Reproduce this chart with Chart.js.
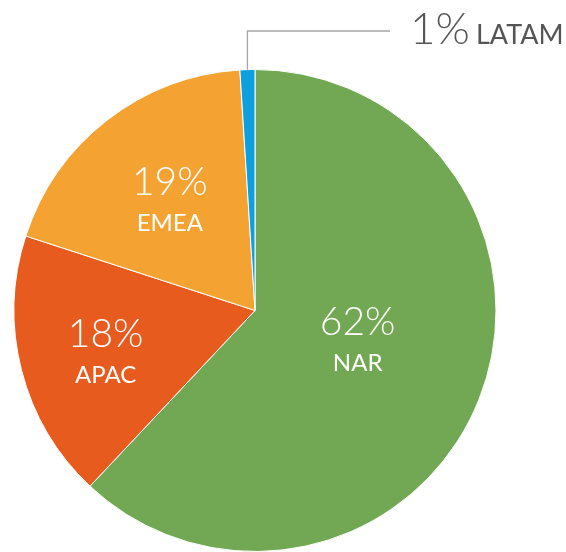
<!DOCTYPE html>
<html>
<head>
<meta charset="utf-8">
<script src="https://cdn.jsdelivr.net/npm/chart.js@4"></script>
<style>
  html, body { margin: 0; padding: 0; background: #fff; }
  #wrap { position: relative; width: 566px; height: 552px; }
</style>
</head>
<body>
<div id="wrap"><canvas id="chart"></canvas></div>
<script>
// data
const regions = ['NAR', 'APAC', 'EMEA', 'LATAM'];
const shares = [62, 18, 19, 1];
const colors = ['#72a853', '#e85b1e', '#f4a333', '#0e9fdf'];

// label placement inside slices (fraction of radius, small angle nudge in degrees)
const labelRadius = [0.44, 0.64, 0.59, null];
const labelNudge = [-7, 0, 1, 0];

const sliceLabels = {
  id: 'sliceLabels',
  afterDatasetsDraw(chart) {
    const ctx = chart.ctx;
    const arcs = chart.getDatasetMeta(0).data;
    ctx.save();
    arcs.forEach((arc, i) => {
      const p = arc.getProps(['x', 'y', 'startAngle', 'endAngle', 'outerRadius'], true);
      const mid = (p.startAngle + p.endAngle) / 2;
      if (labelRadius[i] === null) {
        // leader line out to the right for the small slice
        const lx = p.x + Math.cos(mid) * p.outerRadius;
        const ly = p.y + Math.sin(mid) * p.outerRadius;
        ctx.strokeStyle = '#a6a6a6';
        ctx.lineWidth = 1.3;
        ctx.beginPath();
        ctx.moveTo(lx, ly);
        ctx.lineTo(lx, 31);
        ctx.lineTo(390, 31);
        ctx.stroke();
        ctx.fillStyle = '#555';
        ctx.textAlign = 'left';
        ctx.textBaseline = 'alphabetic';
        ctx.font = '300 44px Lato';
        ctx.fillText(shares[i] + '%', 410, 44);
        ctx.font = '400 27px Lato';
        ctx.fillText(regions[i], 476, 44);
        return;
      }
      const a = mid + labelNudge[i] * Math.PI / 180;
      const r = p.outerRadius * labelRadius[i];
      const cx = p.x + Math.cos(a) * r;
      const cy = p.y + Math.sin(a) * r;
      ctx.fillStyle = '#fff';
      ctx.textAlign = 'center';
      ctx.textBaseline = 'alphabetic';
      ctx.font = '300 39px Lato';
      ctx.fillText(shares[i] + '%', cx, cy - 2);
      ctx.font = '400 24px Lato';
      ctx.fillText(regions[i], cx, cy + 34);
    });
    ctx.restore();
  }
};

new Chart(document.getElementById('chart'), {
  type: 'pie',
  data: {
    labels: regions,
    datasets: [{
      data: shares,
      backgroundColor: colors,
      borderColor: '#fff',
      borderWidth: 1
    }]
  },
  options: {
    responsive: true,
    maintainAspectRatio: false,
    animation: false,
    layout: { padding: { left: 13, right: 69, top: 69, bottom: 0 } },
    plugins: {
      legend: { display: false },
      tooltip: { enabled: false }
    }
  },
  plugins: [sliceLabels]
});
</script>
</body>
</html>
